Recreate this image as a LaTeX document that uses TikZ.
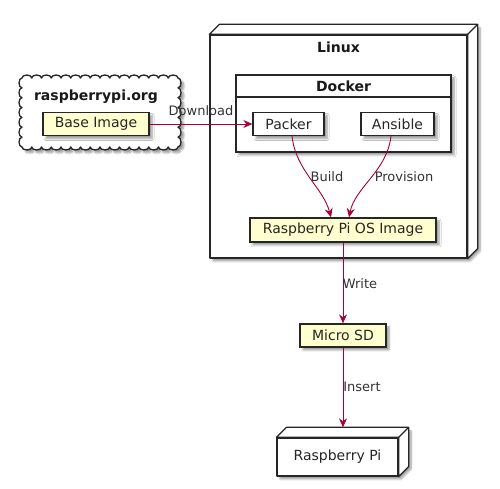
\documentclass[tikz,border=0pt]{standalone}
\usepackage{fontspec}
\setmainfont{DejaVu Sans}
\usetikzlibrary{shadows.blur,arrows.meta}
\definecolor{arrowc}{HTML}{A80036}
\definecolor{boxy}{HTML}{FEFECE}
\tikzset{
  shad/.style={blur shadow={shadow xshift=3pt, shadow yshift=-3pt, shadow blur steps=6, shadow blur radius=2pt, shadow opacity=40}},
  box/.style={draw=black!85, line width=1.3pt, fill=white, minimum height=23, inner sep=0pt,
              font=\fontsize{14}{16}\selectfont, text=black!85, shad},
  artifact/.style={box, fill=boxy},
  face/.style={draw=black!85, line width=1.3pt, fill=white, line join=round},
  title/.style={font=\bfseries\fontsize{14}{16}\selectfont, text=black!90},
  lbl/.style={font=\fontsize{13}{15}\selectfont, text=black!80},
  conn/.style={draw=arrowc, line width=0.9pt, -{Stealth[length=9pt,width=8pt,inset=3pt]}},
}
\begin{document}
\begin{tikzpicture}[x=1pt,y=1pt]
\useasboundingbox (0,0) rectangle (500,489);

% cloud: raspberrypi.org
\draw[face, shad] (22,342)
  foreach \i in {1,...,7} { arc[start angle=-90, end angle=-270, x radius=3, y radius=69/14] }
  foreach \i in {1,...,16} { arc[start angle=180, end angle=0, x radius=156/32, y radius=3] }
  foreach \i in {1,...,7} { arc[start angle=90, end angle=-90, x radius=3, y radius=69/14] }
  foreach \i in {1,...,16} { arc[start angle=0, end angle=-180, x radius=156/32, y radius=3] }
  -- cycle;
\node[title] (cloudlbl) at (96,392) {raspberrypi.org};
\node[artifact, minimum width=106] (base) at (96,365) {Base Image};

% Linux node (3D box)
\path[fill=white, shad] (210,231) -- (210,454) -- (220,464) -- (477,464) -- (477,241) -- (467,231) -- cycle;
\node[face, minimum width=257, minimum height=223, inner sep=0pt] (linux) at (338.5,342.5) {};
\draw[face] (linux.north west) -- ++(10,10) -- ([shift={(10,10)}]linux.north east)
  -- ([shift={(10,10)}]linux.south east) -- (linux.south east) -- (linux.north east) -- cycle;
\draw[face, fill=none] (linux.north east) -- ++(10,10);
\node[title] (linuxlbl) at (338.5,442) {Linux};

% Docker frame
\node[box, minimum width=215, minimum height=77] (docker) at (343.5,375.5) {};
\draw[draw=black!85, line width=1.3pt] (docker.west |- 0,392) -- (docker.east |- 0,392);
\node[title] (dockerlbl) at (343.5,403) {Docker};

\node[box, minimum width=71] (packer) at (288.5,365) {Packer};
\node[box, minimum width=73] (ansible) at (397.5,365) {Ansible};

\node[artifact, minimum width=186, minimum height=24] (rpos) at (343,259) {Raspberry Pi OS Image};
\node[artifact, minimum width=86] (microsd) at (343,153.5) {Micro SD};

% Raspberry Pi node (3D box)
\path[fill=white, shad] (277,13) -- (277,51) -- (287,61) -- (408,61) -- (408,23) -- (398,13) -- cycle;
\node[face, minimum width=121, minimum height=38, inner sep=0pt,
      font=\fontsize{14}{16}\selectfont, text=black!85] (rpi) at (337.5,32) {Raspberry Pi};
\draw[face] (rpi.north west) -- ++(10,10) -- ([shift={(10,10)}]rpi.north east)
  -- ([shift={(10,10)}]rpi.south east) -- (rpi.south east) -- (rpi.north east) -- cycle;
\draw[face, fill=none] (rpi.north east) -- ++(10,10);

% connectors
\draw[conn] (base.east) -- (packer.west);
\node[lbl] (dl) at (201,378) {Download};

\draw[conn] ([xshift=3.5pt]packer.south) .. controls +(4,-35) and +(-8,30) .. ([xshift=-12pt]rpos.north);
\node[lbl] (build) at (327,312) {Build};

\draw[conn] ([xshift=-6.5pt]ansible.south) .. controls +(-4,-35) and +(6,30) .. ([xshift=6pt]rpos.north);
\node[lbl] (prov) at (404,312) {Provision};

\draw[conn] (rpos.south) -- (microsd.north);
\node[lbl] (write) at (360,205) {Write};

\draw[conn] (microsd.south) -- ([shift={(5.5,10)}]rpi.north);
\node[lbl] (insert) at (362,102) {Insert};
\end{tikzpicture}
\end{document}
